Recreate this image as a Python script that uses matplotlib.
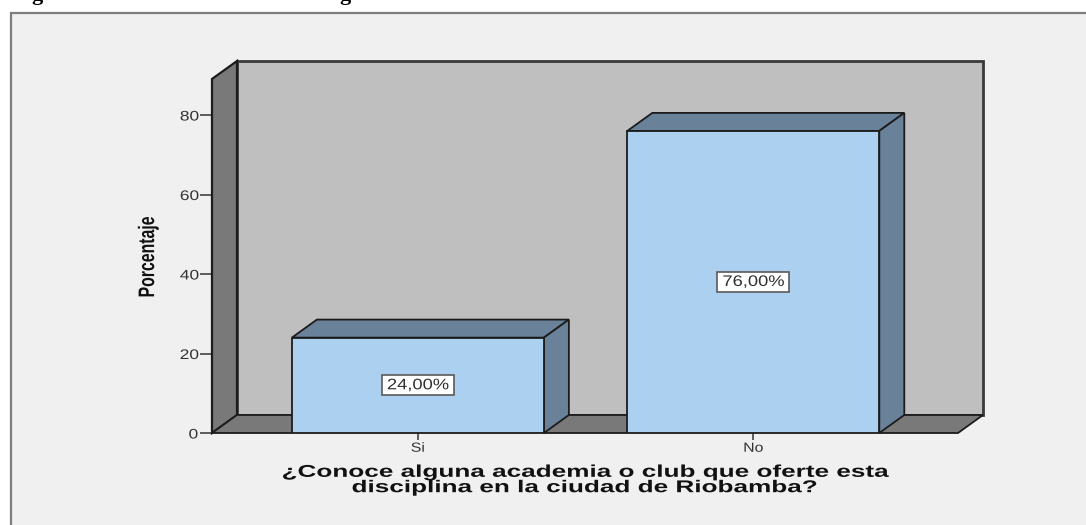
import matplotlib
matplotlib.use("Agg")
import matplotlib.pyplot as plt
import matplotlib.patheffects as pe
from matplotlib.patches import Polygon, Rectangle
from matplotlib.transforms import Affine2D

plt.rcParams["font.family"] = ["Liberation Sans", "DejaVu Sans"]

categorias = ["Si", "No"]
porcentajes = [24.0, 76.0]
etiquetas = ["24,00%", "76,00%"]
yticks = [0, 20, 40, 60, 80]

W, H = 1086, 525
ancho = 0.7513
dx, dy = 0.0745, 4.53  # profundidad del efecto 3D en unidades de datos
linea = "#1c1c1c"


# el texto del original sale estirado, esto lo escala alrededor de su centro
class Estirar(pe.AbstractPathEffect):
    def __init__(self, sx, sy, cx, cy):
        super().__init__()
        self.t = Affine2D().translate(-cx, -cy).scale(sx, sy).translate(cx, cy)

    def draw_path(self, renderer, gc, tpath, affine, rgbFace=None):
        renderer.draw_path(gc, tpath, affine + self.t, rgbFace)


def estirar(texto, sx, sy=1.0):
    caja = texto.get_window_extent(fig.canvas.get_renderer())
    cx, cy = (caja.x0 + caja.x1) / 2, (caja.y0 + caja.y1) / 2
    texto.set_path_effects([Estirar(sx, sy, cx, cy)])
    return cx, cy


fig = plt.figure(figsize=(W / 100, H / 100), dpi=100, facecolor="white")

# marco exterior gris, se corta por la derecha y por abajo
fig.add_artist(Rectangle((11 / W, -0.05), 1.1, (H - 13) / H + 0.05, transform=fig.transFigure,
                         facecolor="#f0f0f0", edgecolor="#7d7d7d", linewidth=1.6, zorder=-1))

# ejes = plano frontal del grafico (x 212-958 px, y 433-79 px)
ax = fig.add_axes([212 / W, 1 - 433 / H, (958 - 212) / W, (433 - 79) / H])
ax.patch.set_visible(False)
ax.set_xlim(-0.6139, 1.6103)
ax.set_ylim(0, 89.06)
for s in ax.spines.values():
    s.set_visible(False)

x0, x1 = ax.get_xlim()
y0, y1 = ax.get_ylim()


def cara(puntos, color, z, lw=1.3, ec=linea):
    ax.add_patch(Polygon(puntos, closed=True, facecolor=color, edgecolor=ec, linewidth=lw,
                         joinstyle="miter", clip_on=False, zorder=z))


# paredes y suelo
cara([(x0 + dx, y0 + dy), (x1 + dx, y0 + dy), (x1 + dx, y1 + dy), (x0 + dx, y1 + dy)], "#bfbfbf", 1, lw=2, ec="#3a3a3a")
cara([(x0, y0), (x0 + dx, y0 + dy), (x0 + dx, y1 + dy), (x0, y1)], "#797979", 2, lw=1.6)
cara([(x0, y0), (x1, y0), (x1 + dx, y0 + dy), (x0 + dx, y0 + dy)], "#797979", 2)

# barras
posiciones = list(range(len(categorias)))
ax.bar(posiciones, porcentajes, width=ancho, color="#acd0ef", edgecolor=linea, linewidth=1.3, zorder=4)
textos_barra = []
for xp, v, txt in zip(posiciones, porcentajes, etiquetas):
    a, b = xp - ancho / 2, xp + ancho / 2
    cara([(a, v), (b, v), (b + dx, v + dy), (a + dx, v + dy)], "#6a8299", 3)
    cara([(b, 0), (b + dx, dy), (b + dx, v + dy), (b, v)], "#6a8299", 3)
    textos_barra.append(ax.text(xp, v / 2, txt, ha="center", va="center", fontsize=11, color="#303030", zorder=6,
                                bbox=dict(boxstyle="square,pad=0.2", facecolor="white", edgecolor="#5a5a5a", linewidth=1.2)))

ax.set_xticks(posiciones, categorias)
ax.set_yticks(yticks)
ax.tick_params(axis="y", length=8.6, width=1.1, color="#333333", labelcolor="#333333", labelsize=10, pad=2)
ax.tick_params(axis="x", length=5, width=1.1, color="#333333", labelcolor="#333333", labelsize=9.5, pad=2)

ylab = fig.text(148 / W, 1 - 257 / H, "Porcentaje", rotation=90, ha="center", va="center",
                fontweight="bold", fontsize=12, color="#111111")
xlab = fig.text(586 / W, 1 - 480 / H, "¿Conoce alguna academia o club que oferte esta\ndisciplina en la ciudad de Riobamba?",
                ha="center", va="center", fontweight="bold", fontsize=12.3, linespacing=1.03, color="#111111")

# titulo recortado: solo asoman los rabos de las g
for xg in [37, 345]:
    fig.text(xg / W, 1, "g", ha="center", va="baseline", family="Liberation Serif",
             fontweight="bold", fontsize=16, color="black")

fig.canvas.draw()
estirar(ylab, 1.35, 0.95)
estirar(xlab, 1.53)
for t in ax.get_yticklabels():
    estirar(t, 1.25)
for t in ax.get_xticklabels():
    estirar(t, 1.2)
for t in textos_barra:
    cx, cy = estirar(t, 1.2)
    t.get_bbox_patch().set_path_effects([Estirar(1.25, 1.0, cx, cy)])

fig.savefig("out.png", dpi=100)
